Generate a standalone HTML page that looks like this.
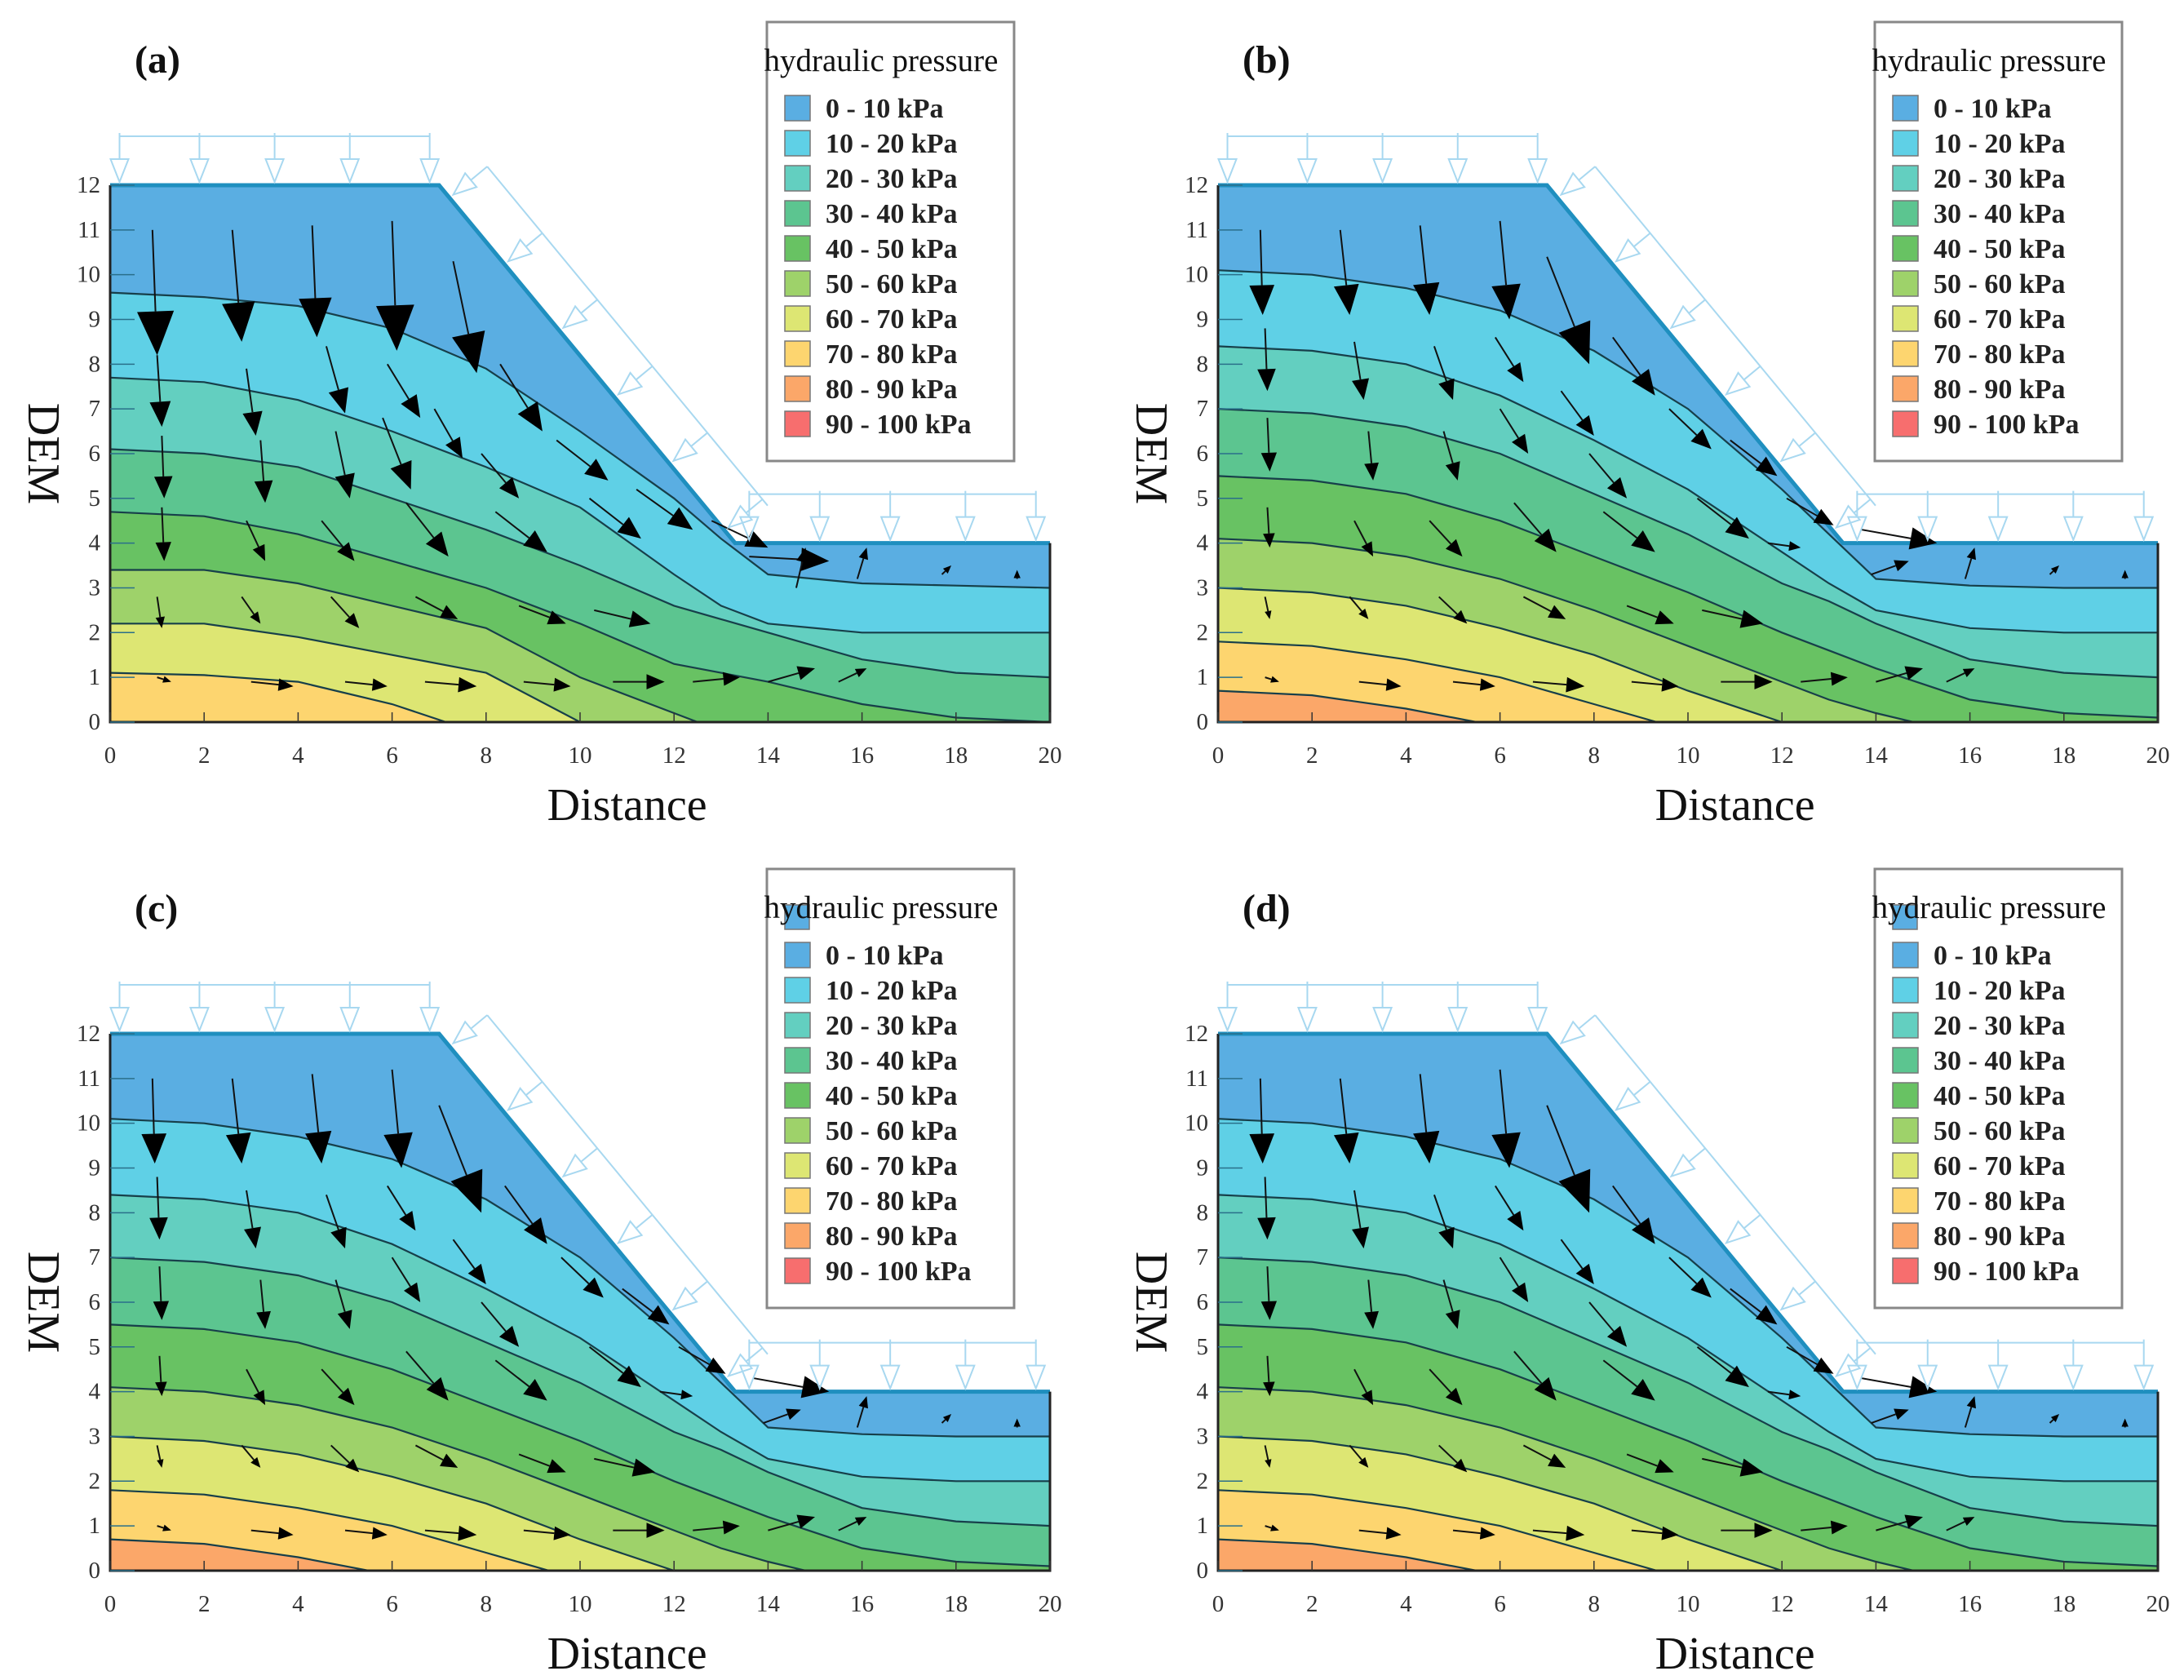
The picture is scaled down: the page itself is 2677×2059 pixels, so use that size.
<!DOCTYPE html>
<html><head><meta charset="utf-8">
<style>
html,body{margin:0;padding:0;background:#fff;}
svg{display:block;}
text{font-family:"Liberation Serif",serif;}
</style></head>
<body>
<svg id="fig" width="2677" height="2059" viewBox="0 0 2677 2059" xmlns="http://www.w3.org/2000/svg"></svg>
<script>
// ---- data ----
const xTicks=[0,2,4,6,8,10,12,14,16,18,20];
const yTicks=[0,1,2,3,4,5,6,7,8,9,10,11,12];
const legendLabels=["0 - 10 kPa","10 - 20 kPa","20 - 30 kPa","30 - 40 kPa","40 - 50 kPa","50 - 60 kPa","60 - 70 kPa","70 - 80 kPa","80 - 90 kPa","90 - 100 kPa"];
const bandColors=["#5aaee2","#5fd0e6","#63cfc0","#5cc590","#68c263","#9ed26a","#dde673","#fdd56f","#fba769","#f76e6e"];
const contourX=[0,2,4,6,8,10,12,13,14,16,18,20];
// contour levels 10..80 kPa (y values at contourX); panel a
const contA=[
 [9.6,9.5,9.3,8.8,7.9,6.5,5.0,4.1,3.3,3.1,3.05,3.0],
 [7.7,7.6,7.2,6.5,5.7,4.8,3.3,2.6,2.2,2.0,2.0,2.0],
 [6.1,6.0,5.7,5.0,4.3,3.5,2.6,2.3,2.0,1.4,1.1,1.0],
 [4.7,4.6,4.2,3.6,3.0,2.2,1.3,1.1,0.9,0.4,0.1,0.0],
 [3.4,3.4,3.1,2.6,2.1,1.0,0.2,-0.2,-0.5,-1,-1,-1],
 [2.2,2.2,1.9,1.5,1.1,0.0,-0.6,-1,-1,-1,-1,-1],
 [1.1,1.05,0.9,0.4,-0.3,-1,-1,-1,-1,-1,-1,-1],
 [-1,-1,-1,-1,-1,-1,-1,-1,-1,-1,-1,-1]
];
// panels b, c, d
const contB=[
 [10.1,10.0,9.7,9.2,8.3,7.0,5.2,4.2,3.2,3.05,3.0,3.0],
 [8.4,8.3,8.0,7.3,6.3,5.2,3.8,3.1,2.5,2.1,2.0,2.0],
 [7.0,6.9,6.6,6.0,5.1,4.2,3.1,2.7,2.2,1.4,1.1,1.0],
 [5.5,5.4,5.1,4.5,3.7,2.9,2.0,1.6,1.2,0.5,0.2,0.1],
 [4.1,4.0,3.7,3.2,2.5,1.7,0.9,0.5,0.2,-0.3,-1,-1],
 [3.0,2.9,2.6,2.1,1.5,0.7,0.0,-0.5,-1,-1,-1,-1],
 [1.8,1.7,1.4,1.0,0.4,-0.2,-1,-1,-1,-1,-1,-1],
 [0.7,0.6,0.3,-0.1,-1,-1,-1,-1,-1,-1,-1,-1]
];
// velocity arrows: [x0,y0,x1,y1]
const arrowsA=[
 [0.9,11,1.0,8.2],[1.0,8.2,1.1,6.6],[1.1,6.4,1.15,5.0],[1.1,4.8,1.15,3.6],[1.0,2.8,1.1,2.1],
 [2.6,11,2.8,8.5],[2.9,7.9,3.1,6.4],[3.2,6.3,3.3,4.9],[2.9,4.5,3.3,3.6],[2.8,2.8,3.2,2.2],
 [4.3,11.1,4.4,8.6],[4.6,8.4,5.0,6.9],[4.8,6.5,5.1,5.0],[4.5,4.5,5.2,3.6],[4.7,2.8,5.3,2.1],
 [6.0,11.2,6.1,8.3],[5.9,8.0,6.6,6.8],[5.8,6.8,6.4,5.2],[6.3,4.9,7.2,3.7],[6.5,2.8,7.4,2.3],
 [7.3,10.3,7.8,7.8],[6.9,7.0,7.5,5.9],[7.9,6.0,8.7,5.0],[8.2,4.7,9.3,3.8],[8.7,2.6,9.7,2.2],
 [8.3,8.0,9.2,6.5],[9.5,6.3,10.6,5.4],[10.2,5.0,11.3,4.1],[10.3,2.5,11.5,2.2],
 [11.2,5.2,12.4,4.3],[12.8,4.5,14.0,3.9],[13.6,3.7,15.3,3.6],[14.6,3.0,14.8,3.9],
 [1.0,1.0,1.3,0.9],[3.0,0.9,3.9,0.8],[5.0,0.9,5.9,0.8],[6.7,0.9,7.8,0.8],[8.8,0.9,9.8,0.8],
 [10.7,0.9,11.8,0.9],[12.4,0.9,13.4,1.0],[14.0,0.9,15.0,1.2],[15.5,0.9,16.1,1.2],
 [15.9,3.2,16.1,3.9],[17.7,3.3,17.9,3.5],[19.3,3.2,19.3,3.4]
];
const arrowsB=[
 [0.9,11,0.95,9.1],[1.0,8.8,1.05,7.4],[1.05,6.8,1.1,5.6],[1.05,4.8,1.1,3.9],[1.0,2.8,1.1,2.3],
 [2.6,11,2.8,9.1],[2.9,8.5,3.1,7.2],[3.2,6.5,3.3,5.4],[2.9,4.5,3.3,3.7],[2.8,2.8,3.2,2.3],
 [4.3,11.1,4.5,9.1],[4.6,8.4,5.0,7.2],[4.8,6.5,5.1,5.4],[4.5,4.5,5.2,3.7],[4.7,2.8,5.3,2.2],
 [6.0,11.2,6.2,9.0],[5.9,8.6,6.5,7.6],[6.0,7.0,6.6,6.0],[6.3,4.9,7.2,3.8],[6.5,2.8,7.4,2.3],
 [7.0,10.4,7.9,8.0],[7.3,7.4,8.0,6.4],[7.9,6.0,8.7,5.0],[8.2,4.7,9.3,3.8],[8.7,2.6,9.7,2.2],
 [8.4,8.6,9.3,7.3],[9.6,7.0,10.5,6.1],[10.2,5.0,11.3,4.1],[10.3,2.5,11.6,2.2],
 [10.9,6.3,11.9,5.5],[12.1,5.0,13.1,4.4],[11.7,4.0,12.4,3.9],[13.7,4.3,15.3,4.0],[13.9,3.3,14.7,3.6],
 [1.0,1.0,1.3,0.9],[3.0,0.9,3.9,0.8],[5.0,0.9,5.9,0.8],[6.7,0.9,7.8,0.8],[8.8,0.9,9.8,0.8],
 [10.7,0.9,11.8,0.9],[12.4,0.9,13.4,1.0],[14.0,0.9,15.0,1.2],[15.5,0.9,16.1,1.2],
 [15.9,3.2,16.1,3.9],[17.7,3.3,17.9,3.5],[19.3,3.2,19.3,3.4]
];
const panels=[
 {id:"a",ox:135,oy:227,cont:contA,arrows:arrowsA,lx:940,ly:27,extra:false},
 {id:"b",ox:1493,oy:227,cont:contB,arrows:arrowsB,lx:2298,ly:27,extra:false},
 {id:"c",ox:135,oy:1267,cont:contB,arrows:arrowsB,lx:940,ly:1065,extra:true},
 {id:"d",ox:1493,oy:1267,cont:contB,arrows:arrowsB,lx:2298,ly:1065,extra:true}
];
// ---- drawing ----
const NS="http://www.w3.org/2000/svg";
const svg=document.getElementById("fig");
function mk(tag,attrs,parent){const e=document.createElementNS(NS,tag);for(const k in attrs)e.setAttribute(k,attrs[k]);(parent||svg).appendChild(e);return e;}
const UX=57.6, UY=54.83;
panels.forEach((p,pi)=>{
 const g=mk("g",{});
 
 
 const sx=v=>p.ox+v*UX, sy=v=>p.oy+(12-v)*UY;
 const dom=[[0,0],[0,12],[7,12],[13.3,4],[20,4],[20,0]];
 const domPts=dom.map(d=>sx(d[0])+","+sy(d[1])).join(" ");
 const cp=mk("clipPath",{id:"clip"+p.id},g);
 mk("polygon",{points:domPts},cp);
 const cg=mk("g",{"clip-path":"url(#clip"+p.id+")"},g);
 
 
 mk("polygon",{points:domPts,fill:bandColors[8]},cg);
 for(let k=p.cont.length-1;k>=0;k--){
  const ys=p.cont[k];
  let d="M"+sx(0)+","+sy(13);
  contourX.forEach((x,i)=>{d+=" L"+sx(x).toFixed(1)+","+sy(ys[i]).toFixed(1);});
  d+=" L"+sx(20)+","+sy(13)+"Z";
  const band=mk("path",{d:d,fill:bandColors[k]},cg);
  
  
  let ld="";
  contourX.forEach((x,i)=>{ld+=(i?" L":"M")+sx(x).toFixed(1)+","+sy(ys[i]).toFixed(1);});
  const cl=mk("path",{d:ld,fill:"none",stroke:"#173f4a","stroke-width":2.2},cg);
  
  
 }
 mk("polyline",{points:[[0,12],[7,12],[13.3,4],[20,4]].map(d=>sx(d[0])+","+sy(d[1])).join(" "),fill:"none",stroke:"#1f8fbf","stroke-width":5},g);
 mk("polyline",{points:[[20,4],[20,0],[0,0],[0,12]].map(d=>sx(d[0])+","+sy(d[1])).join(" "),fill:"none",stroke:"#222","stroke-width":3},g);
 xTicks.forEach(v=>{
  mk("line",{x1:sx(v),y1:sy(0),x2:sx(v),y2:sy(0)-12,stroke:"#333","stroke-width":1.5},g);
  const t=mk("text",{x:sx(v),y:sy(0)+50,"font-size":29,"text-anchor":"middle",fill:"#333"},g);t.textContent=v;
  
  
 });
 yTicks.forEach(v=>{
  mk("line",{x1:sx(0),y1:sy(v),x2:sx(0)+30,y2:sy(v),stroke:"#2a6f8a","stroke-width":1.5},g);
  const t=mk("text",{x:sx(0)-12,y:sy(v)+9,"font-size":29,"text-anchor":"end",fill:"#333"},g);t.textContent=v;
  
  
 });
 const ag=mk("g",{},g);
 
 
 p.arrows.forEach(a=>{
  const x0=sx(a[0]),y0=sy(a[1]),x1=sx(a[2]),y1=sy(a[3]);
  const dx=x1-x0,dy=y1-y0,L=Math.hypot(dx,dy)||1;
  const ux=dx/L,uy=dy/L;
  const hl=Math.min(60,Math.max(10,L*0.35)),hw=hl*0.42;
  const bx=x1-ux*hl,by=y1-uy*hl;
  mk("line",{x1:x0,y1:y0,x2:bx,y2:by,stroke:"#111","stroke-width":2},ag);
  const tri=mk("polygon",{points:`${x1},${y1} ${bx-uy*hw},${by+ux*hw} ${bx+uy*hw},${by-ux*hw}`,fill:"#000"},ag);
  
  
 });
 const lg=mk("g",{fill:"none",stroke:"#a8d8f0","stroke-width":2},g);
 
 
 const drawLoad=(tx,ty,nx,ny,len)=>{
  const x0=tx+nx*len,y0=ty+ny*len;
  const hx=tx+nx*28,hy=ty+ny*28;
  mk("line",{x1:x0,y1:y0,x2:hx,y2:hy},lg);
  mk("polygon",{points:`${tx},${ty} ${hx-ny*11},${hy+nx*11} ${hx+ny*11},${hy-nx*11}`},lg);
 };
 const topX=[0.2,1.9,3.5,5.1,6.8];
 mk("line",{x1:sx(0.2),y1:sy(12)-60,x2:sx(6.8),y2:sy(12)-60},lg);
 topX.forEach(x=>drawLoad(sx(x),sy(12)-4,0,-1,60));
 const rX=[13.6,15.1,16.6,18.2,19.7];
 mk("line",{x1:sx(13.6),y1:sy(4)-60,x2:sx(19.7),y2:sy(4)-60},lg);
 rX.forEach(x=>drawLoad(sx(x),sy(4)-4,0,-1,60));
 const ax=sx(7),ay=sy(12),bx2=sx(13.3),by2=sy(4);
 const sl=Math.hypot(bx2-ax,by2-ay),tx=(bx2-ax)/sl,ty=(by2-ay)/sl;
 const nx=ty,ny=-tx;
 mk("line",{x1:ax+tx*20+nx*60,y1:ay+ty*20+ny*60,x2:ax+tx*(sl-10)+nx*60,y2:ay+ty*(sl-10)+ny*60},lg);
 for(let i=0;i<6;i++){const f=(20+i*(sl-40)/5);drawLoad(ax+tx*f+nx*6,ay+ty*f+ny*6,nx,ny,54);}
 const yt=mk("text",{x:0,y:0,"font-size":56,"text-anchor":"middle",fill:"#111",transform:`translate(${p.ox-100},${sy(6)}) rotate(90)`},g);yt.textContent="DEM";
 
 
 const xt=mk("text",{x:sx(11.0),y:sy(0)+120,"font-size":56,"text-anchor":"middle",fill:"#111"},g);xt.textContent="Distance";
 
 
 const pl=mk("text",{x:p.ox+30,y:p.oy-138,"font-size":48,"font-weight":"bold",fill:"#111"},g);pl.textContent="("+p.id+")";
 
 
 const lgd=mk("g",{},g);
 
 
 mk("rect",{x:p.lx,y:p.ly,width:303,height:538,fill:"#fff",stroke:"#888","stroke-width":3},lgd);
 if(p.extra){mk("rect",{x:p.lx+22,y:p.ly+44,width:30,height:30,fill:bandColors[0],stroke:"#777","stroke-width":1.5},lgd);}
 const lt=mk("text",{x:p.lx+140,y:p.ly+60,"font-size":39,"text-anchor":"middle",fill:"#111"},lgd);lt.textContent="hydraulic pressure";
 
 
 legendLabels.forEach((s,i)=>{
  const cy=p.ly+105+i*43;
  const sw=mk("rect",{x:p.lx+22,y:cy-15,width:31,height:31,fill:bandColors[i],stroke:"#777","stroke-width":1.5},lgd);
  
  
  const tt=mk("text",{x:p.lx+72,y:cy+12,"font-size":34,"font-weight":"bold",fill:"#222"},lgd);tt.textContent=s;
  
  
 });
});
</script>
</body></html>
